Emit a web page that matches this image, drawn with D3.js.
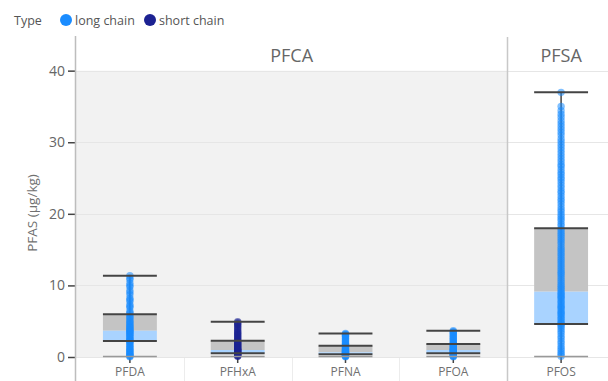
<!DOCTYPE html>
<html>
<head>
<meta charset="utf-8">
<script src="https://cdn.jsdelivr.net/npm/d3@7"></script>
<style>
    body { margin: 0; background: #fff; }
    text { font-family: "Open Sans", "Noto Sans", sans-serif; }
</style>
</head>
<body>
<div id="chart"></div>
<script>
// categories and their facet / type
var categories = ["PFDA", "PFHxA", "PFNA", "PFOA", "PFOS"];
var groups = ["PFCA", "PFCA", "PFCA", "PFCA", "PFSA"];
var types = ["long chain", "short chain", "long chain", "long chain", "long chain"];
var typeNames = ["long chain", "short chain"];

// box statistics (µg/kg)
var whiskerLow = [0.05, 0.05, 0.05, 0.05, 0.1];
var boxQ1 = [2.23, 0.52, 0.37, 0.51, 4.6];
var boxMedian = [3.67, 0.98, 0.65, 0.98, 9.12];
var boxQ3 = [5.96, 2.28, 1.58, 1.82, 17.97];
var whiskerHigh = [11.35, 4.93, 3.3, 3.67, 36.97];

// individual measurements
var pfdaValues = [0.05, 0.1, 0.2, 0.3, 0.4, 0.5, 0.65, 0.8, 0.9, 1.0, 1.2, 1.3, 1.5, 1.6, 1.8, 2.0, 2.1, 2.2, 2.3, 2.4, 2.5, 2.7, 2.8, 3.0, 3.1, 3.2, 3.4, 3.5, 3.6, 3.7, 3.8, 3.9, 4.1, 4.2, 4.3, 4.5, 4.6, 4.8, 5.0, 5.1, 5.4, 5.6, 5.7, 6.0, 6.2, 6.4, 6.9, 7.1, 7.3, 7.8, 8.0, 8.2, 8.7, 9.0, 9.3, 9.8, 10.0, 10.3, 10.8, 11.0, 11.35];
var pfhxaValues = [0.1, 0.15, 0.2, 0.3, 0.35, 0.4, 0.5, 0.55, 0.6, 0.7, 0.8, 0.85, 0.9, 1.0, 1.05, 1.1, 1.2, 1.3, 1.4, 1.5, 1.6, 1.7, 1.8, 1.9, 2.0, 2.1, 2.2, 2.3, 2.5, 2.6, 2.8, 2.9, 3.1, 3.2, 3.4, 3.5, 3.7, 3.9, 4.1, 4.3, 4.5, 4.6, 4.8, 4.93];
var pfnaValues = [0.05, 0.1, 0.15, 0.2, 0.25, 0.3, 0.35, 0.4, 0.45, 0.5, 0.55, 0.6, 0.65, 0.7, 0.75, 0.8, 0.9, 0.95, 1.0, 1.1, 1.2, 1.3, 1.4, 1.5, 1.6, 1.7, 1.8, 1.9, 2.0, 2.2, 2.3, 2.5, 2.6, 2.8, 2.9, 3.0, 3.1, 3.2, 3.3];
var pfoaValues = [0.05, 0.1, 0.15, 0.2, 0.3, 0.35, 0.45, 0.5, 0.55, 0.6, 0.7, 0.75, 0.85, 0.9, 1.0, 1.05, 1.1, 1.2, 1.3, 1.4, 1.5, 1.6, 1.7, 1.8, 1.85, 2.0, 2.1, 2.3, 2.4, 2.6, 2.7, 2.9, 3.0, 3.2, 3.3, 3.45, 3.55, 3.67];
var pfosValues = [0.1, 0.4, 0.6, 0.9, 1.2, 1.5, 1.9, 2.2, 2.6, 2.9, 3.3, 3.6, 3.9, 4.2, 4.4, 4.6, 4.8, 5.0, 5.3, 5.5, 5.8, 6.0, 6.2, 6.4, 6.7, 6.9, 7.1, 7.3, 7.6, 7.8, 8.1, 8.3, 8.5, 8.7, 8.9, 9.1, 9.4, 9.6, 9.9, 10.1, 10.4, 10.7, 11.0, 11.3, 11.6, 11.8, 12.1, 12.4, 12.7, 13.0, 13.3, 13.6, 13.9, 14.2, 14.5, 14.8, 15.1, 15.4, 15.8, 16.1, 16.4, 16.7, 17.0, 17.3, 17.6, 17.9, 18.3, 18.6, 19.0, 19.3, 19.6, 19.9, 20.3, 20.6, 21.0, 21.4, 21.8, 22.1, 22.5, 22.9, 23.2, 23.6, 24.0, 24.4, 24.8, 25.1, 25.5, 25.8, 26.2, 26.6, 26.9, 27.3, 27.7, 28.1, 28.5, 28.9, 29.3, 29.7, 30.1, 30.5, 31.0, 31.4, 31.8, 32.2, 32.6, 33.0, 33.5, 33.9, 34.4, 35.0, 36.97];
var pointValues = [pfdaValues, pfhxaValues, pfnaValues, pfoaValues, pfosValues];

var yTicks = [0, 10, 20, 30, 40];
var facetNames = ["PFCA", "PFSA"];

var width = 608, height = 381;
var colorMap = {"long chain": "#1a8cff", "short chain": "#1c2292"};
var lightColor = {"long chain": "#a9d3ff", "short chain": "#a9d3ff"};

var svg = d3.select("#chart").append("svg")
    .attr("width", width)
    .attr("height", height);

//scales
var plotLeft = 76, plotTop = 37, plotBottom = 357;
var xScale = d3.scaleBand().domain(categories).range([plotLeft, plotLeft + 5 * 107.8]);
var yScale = d3.scaleLinear().domain([0, 44.7]).range([plotBottom, plotTop]);
var bw = xScale.bandwidth();

//facet extents
var facetX = facetNames.map(function (f) {
    var cats = categories.filter(function (c, i) { return groups[i] === f; });
    return [xScale(cats[0]), xScale(cats[cats.length - 1]) + bw];
});

//background of PFCA panel
svg.append("rect")
    .attr("x", facetX[0][0])
    .attr("y", yScale(40))
    .attr("width", facetX[0][1] - facetX[0][0])
    .attr("height", yScale(0) - yScale(40) + 1)
    .attr("fill", "#f2f2f2");

//gridlines
svg.append("g").selectAll("line")
    .data(yTicks)
    .enter().append("line")
    .attr("x1", plotLeft).attr("x2", width)
    .attr("y1", function (d) { return Math.round(yScale(d)) + 0.5; })
    .attr("y2", function (d) { return Math.round(yScale(d)) + 0.5; })
    .attr("stroke", "#e6e6e6")
    .attr("stroke-width", 1);

//category separators below the axis
svg.append("g").selectAll("line")
    .data(categories.slice(1))
    .enter().append("line")
    .attr("x1", function (d) { return Math.round(xScale(d)) + 0.5; })
    .attr("x2", function (d) { return Math.round(xScale(d)) + 0.5; })
    .attr("y1", plotBottom + 1).attr("y2", height)
    .attr("stroke", "#ececec");

//facet separator
svg.append("line")
    .attr("x1", Math.round(facetX[1][0]) + 0.5).attr("x2", Math.round(facetX[1][0]) + 0.5)
    .attr("y1", plotTop).attr("y2", height)
    .attr("stroke", "#c8c8c8")
    .attr("stroke-width", 1.5);

//facet titles
svg.append("g").selectAll("text")
    .data(facetNames)
    .enter().append("text")
    .attr("x", function (d, i) { return (facetX[i][0] + facetX[i][1]) / 2; })
    .attr("y", 62)
    .attr("text-anchor", "middle")
    .attr("font-size", 18)
    .attr("fill", "#666")
    .text(function (d) { return d; });

//y axis
var yAxis = d3.axisLeft(yScale).tickValues(yTicks).tickSize(8).tickPadding(3);
var yg = svg.append("g")
    .attr("transform", "translate(" + plotLeft + ",0)")
    .call(yAxis);
yg.select(".domain").remove();
yg.selectAll(".tick line").attr("stroke", "#444").attr("stroke-width", 1.5);
yg.selectAll(".tick text").attr("font-size", 14).attr("fill", "#666")
    .style("font-family", "'Open Sans', sans-serif");
svg.append("line")
    .attr("x1", plotLeft - 0.5).attr("x2", plotLeft - 0.5)
    .attr("y1", plotTop - 1).attr("y2", height)
    .attr("stroke", "#bdbdbd")
    .attr("stroke-width", 1.5);

svg.append("text")
    .attr("transform", "translate(37," + 213 + ") rotate(-90)")
    .attr("text-anchor", "middle")
    .attr("font-size", 13.5)
    .attr("fill", "#707070")
    .text("PFAS (µg/kg)");

//x axis
var xAxis = d3.axisBottom(xScale).tickSize(6).tickPadding(4);
var xg = svg.append("g")
    .attr("transform", "translate(0," + plotBottom + ")")
    .call(xAxis);
xg.select(".domain").remove();
xg.selectAll(".tick line").attr("stroke", "#444").attr("stroke-width", 1.5);
xg.selectAll(".tick text").attr("font-size", 12).attr("fill", "#707070")
    .style("font-family", "'Open Sans', sans-serif");

//boxes
var boxW = bw * 0.5;
var boxes = svg.append("g").selectAll("g")
    .data(categories)
    .enter().append("g")
    .attr("transform", function (d) { return "translate(" + (xScale(d) + bw / 2) + ",0)"; });

boxes.append("rect")
    .attr("x", -boxW / 2).attr("width", boxW)
    .attr("y", function (d, i) { return yScale(boxQ3[i]); })
    .attr("height", function (d, i) { return yScale(boxMedian[i]) - yScale(boxQ3[i]); })
    .attr("fill", "#c4c4c4");

boxes.append("rect")
    .attr("x", -boxW / 2).attr("width", boxW)
    .attr("y", function (d, i) { return yScale(boxMedian[i]); })
    .attr("height", function (d, i) { return yScale(boxQ1[i]) - yScale(boxMedian[i]); })
    .attr("fill", function (d, i) { return lightColor[types[i]]; });

boxes.append("line")
    .attr("x1", 0).attr("x2", 0)
    .attr("y1", function (d, i) { return yScale(whiskerLow[i]); })
    .attr("y2", function (d, i) { return yScale(whiskerHigh[i]); })
    .attr("stroke", "#444")
    .attr("stroke-width", 1.5);

//points
boxes.selectAll("circle")
    .data(function (d, i) {
        return pointValues[i].map(function (v) { return {value: v, type: types[i]}; });
    })
    .enter().append("circle")
    .attr("cx", 0)
    .attr("cy", function (d) { return yScale(d.value); })
    .attr("r", 3.7)
    .attr("fill", function (d) { return colorMap[d.type]; })
    .attr("fill-opacity", 0.55);

//horizontal stat lines
var statLines = [boxQ1, boxQ3, whiskerHigh];
statLines.forEach(function (arr) {
    boxes.append("line")
        .attr("x1", -boxW / 2).attr("x2", boxW / 2)
        .attr("y1", function (d, i) { return yScale(arr[i]); })
        .attr("y2", function (d, i) { return yScale(arr[i]); })
        .attr("stroke", "#444")
        .attr("stroke-width", 2);
});
boxes.append("line")
    .attr("x1", -boxW / 2).attr("x2", boxW / 2)
    .attr("y1", function (d, i) { return yScale(0) - 0.5; })
    .attr("y2", function (d, i) { return yScale(0) - 0.5; })
    .attr("stroke", "#999")
    .attr("stroke-width", 1.5);

//legend
var legend = svg.append("g").attr("transform", "translate(0,20)");
legend.append("text")
    .attr("x", 14).attr("y", 5)
    .attr("font-size", 12.5)
    .attr("fill", "#555")
    .text("Type");
var legX = [66, 150];
var items = legend.selectAll(".item")
    .data(typeNames)
    .enter().append("g")
    .attr("class", "item")
    .attr("transform", function (d, i) { return "translate(" + legX[i] + ",0)"; });
items.append("circle")
    .attr("r", 6)
    .attr("fill", function (d) { return colorMap[d]; });
items.append("text")
    .attr("x", 9).attr("y", 5)
    .attr("font-size", 12.5)
    .attr("fill", "#555")
    .text(function (d) { return d; });
</script>
</body>
</html>
